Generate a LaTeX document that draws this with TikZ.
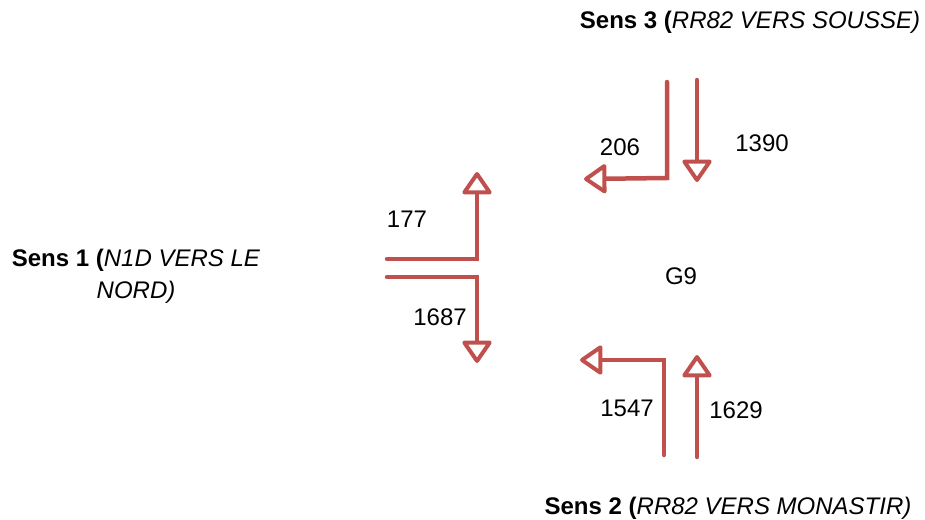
\documentclass[tikz,border=0pt]{standalone}
\usepackage{fontspec}
\setmainfont{Liberation Sans}
\usetikzlibrary{arrows.meta}
\definecolor{flow}{RGB}{192,80,77}
\tikzset{
  flowline/.style={draw=flow, line width=4.5pt, line cap=round, line join=miter,
    -{Triangle[open, length=24pt, width=32pt, line width=4pt, round]}},
  lbl/.style={font=\fontsize{24}{28}\selectfont, inner sep=0pt, text=black},
  sens/.style={font=\fontsize{24}{32}\selectfont, inner sep=0pt, align=center}
}
\begin{document}
\begin{tikzpicture}[x=1pt,y=-1pt]
\useasboundingbox (0,0) rectangle (925,519);
% named coordinates
\coordinate (s3a0) at (667,82);  \coordinate (s3a1) at (667,178); \coordinate (s3a2) at (584,179);
\coordinate (s3b0) at (697,80);  \coordinate (s3b1) at (697,182);
\coordinate (s1a0) at (387,259); \coordinate (s1a1) at (477,259); \coordinate (s1a2) at (477,172);
\coordinate (s1b0) at (387,277); \coordinate (s1b1) at (477,277); \coordinate (s1b2) at (477,363);
\coordinate (s2a0) at (664,455); \coordinate (s2a1) at (664,360); \coordinate (s2a2) at (580,360);
\coordinate (s2b0) at (697,457); \coordinate (s2b1) at (697,355);
% connectors
\draw[flowline] (s3a0) -- (s3a1) -- (s3a2);
\draw[flowline] (s3b0) -- (s3b1);
\draw[flowline] (s1a0) -- (s1a1) -- (s1a2);
\draw[flowline] (s1b0) -- (s1b1) -- (s1b2);
\draw[flowline] (s2a0) -- (s2a1) -- (s2a2);
\draw[flowline] (s2b0) -- (s2b1);
% labels
\node[lbl] (n177) at (407,219) {177};
\node[lbl] (n1687) at (440,317) {1687};
\node[lbl] (n206) at (620,147) {206};
\node[lbl] (n1390) at (762,143) {1390};
\node[lbl] (g9) at (681,276) {G9};
\node[lbl] (n1547) at (627,408) {1547};
\node[lbl] (n1629) at (736,410) {1629};
\node[sens] (sens3) at (750,22) {\textbf{Sens 3 (}\textit{RR82 VERS SOUSSE)}};
\node[sens] (sens2) at (728,508) {\textbf{Sens 2 (}\textit{RR82 VERS MONASTIR)}};
\node[sens] (sens1) at (136,276) {\textbf{Sens 1 (}\textit{N1D VERS LE}\\\textit{NORD)}};
\end{tikzpicture}
\end{document}
